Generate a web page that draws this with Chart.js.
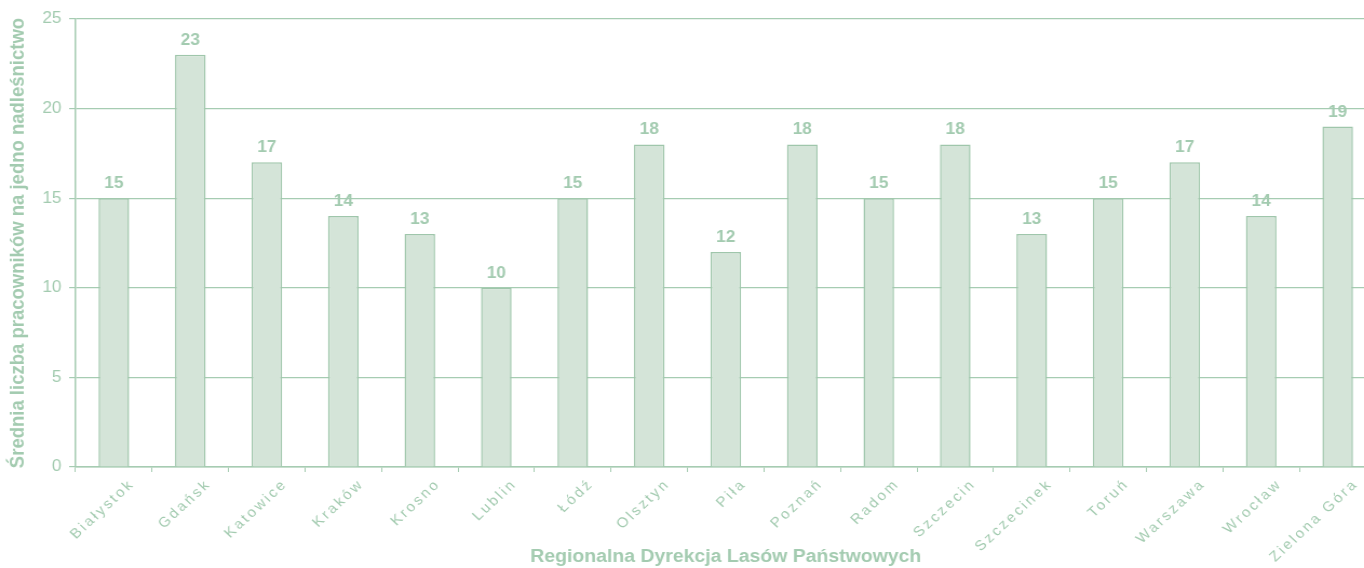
<!DOCTYPE html>
<html><head><meta charset="utf-8">
<script src="https://cdn.jsdelivr.net/npm/chart.js@4/dist/chart.umd.min.js"></script>
<style>html,body{margin:0;padding:0;background:#fff;overflow:hidden;width:1364px;height:568px}
#c{display:block}</style>
</head><body><canvas id="c" width="1275" height="568" style="width:1377px;height:568px"></canvas>
<script>
const categories = ["Białystok","Gdańsk","Katowice","Kraków","Krosno","Lublin","Łódź","Olsztyn","Piła","Poznań","Radom","Szczecin","Szczecinek","Toruń","Warszawa","Wrocław","Zielona Góra"];
const values = [15,23,17,14,13,10,15,18,12,18,15,18,13,15,17,14,19];
const yTicks = [0,5,10,15,20,25];
const yTitle = "Średnia liczba pracowników na jedno nadleśnictwo";
const xTitle = "Regionalna Dyrekcja Lasów Państwowych";

const textCol = "#a3cbb0";
const lineCol = "#a6ccb2";
const FONT = "'Liberation Sans', Arial, sans-serif";
const X_SPACING = '2.4px';

// letter spacing only for the category tick labels
const spacingPlugin = {
  id: 'xSpacing',
  beforeLayout(chart) {
    const sc = chart.scales.x;
    if (!sc || sc._spPatched) return;
    sc._spPatched = true;
    const ctx = chart.ctx;
    const oUpdate = sc.update, oDrawLabels = sc.drawLabels;
    sc.update = function(...a) { ctx.letterSpacing = X_SPACING; const r = oUpdate.apply(this, a); ctx.letterSpacing = '0px'; return r; };
    sc.drawLabels = function(...a) { ctx.letterSpacing = X_SPACING; const r = oDrawLabels.apply(this, a); ctx.letterSpacing = '0px'; return r; };
  }
};

const labelPlugin = {
  id: 'barLabels',
  afterDatasetsDraw(chart) {
    const ctx = chart.ctx;
    const meta = chart.getDatasetMeta(0);
    ctx.save();
    ctx.letterSpacing = '0px';
    ctx.fillStyle = textCol;
    ctx.font = "bold 16px " + FONT;
    ctx.textAlign = 'center';
    ctx.textBaseline = 'alphabetic';
    meta.data.forEach((bar, i) => {
      ctx.fillText(String(values[i]), bar.x, bar.y - 10);
    });
    ctx.restore();
  }
};

new Chart(document.getElementById('c'), {
  type: 'bar',
  data: { labels: categories, datasets: [{ data: values, backgroundColor: "#d4e4d8", borderColor: "#9fc6ab", borderWidth: 1.5, barPercentage: 0.4, categoryPercentage: 1.0 }] },
  options: {
    responsive: false, devicePixelRatio: 1, animation: false,
    layout: { padding: { top: 19, right: 1, left: 0, bottom: 0 } },
    plugins: { legend: { display: false }, tooltip: { enabled: false } },
    scales: {
      x: {
        afterFit(scale) { scale.height = 101; },
        grid: { drawOnChartArea: false, drawTicks: true, tickLength: 5, color: lineCol, offset: true },
        border: { color: lineCol, width: 1.5 },
        ticks: { color: textCol, font: { family: FONT, size: 14 }, minRotation: 45, maxRotation: 45, padding: 4, labelOffset: 17, autoSkip: false },
        title: { display: true, text: xTitle, color: textCol, font: { family: FONT, size: 18, weight: 'bold' }, padding: { top: 0, bottom: 0 } }
      },
      y: {
        min: 0, max: 25,
        afterFit(scale) { scale.width = 70; },
        afterBuildTicks(axis) { axis.ticks = yTicks.map(v => ({ value: v })); },
        grid: { color: lineCol, lineWidth: 1.2, tickLength: 6 },
        border: { color: lineCol, width: 1.5 },
        ticks: { color: textCol, font: { family: FONT, size: 16 }, padding: 7 },
        title: { display: true, text: yTitle, color: textCol, font: { family: FONT, size: 18.5, weight: 'bold' }, padding: { top: 6, bottom: 0 } }
      }
    }
  },
  plugins: [spacingPlugin, labelPlugin]
});
</script></body></html>
